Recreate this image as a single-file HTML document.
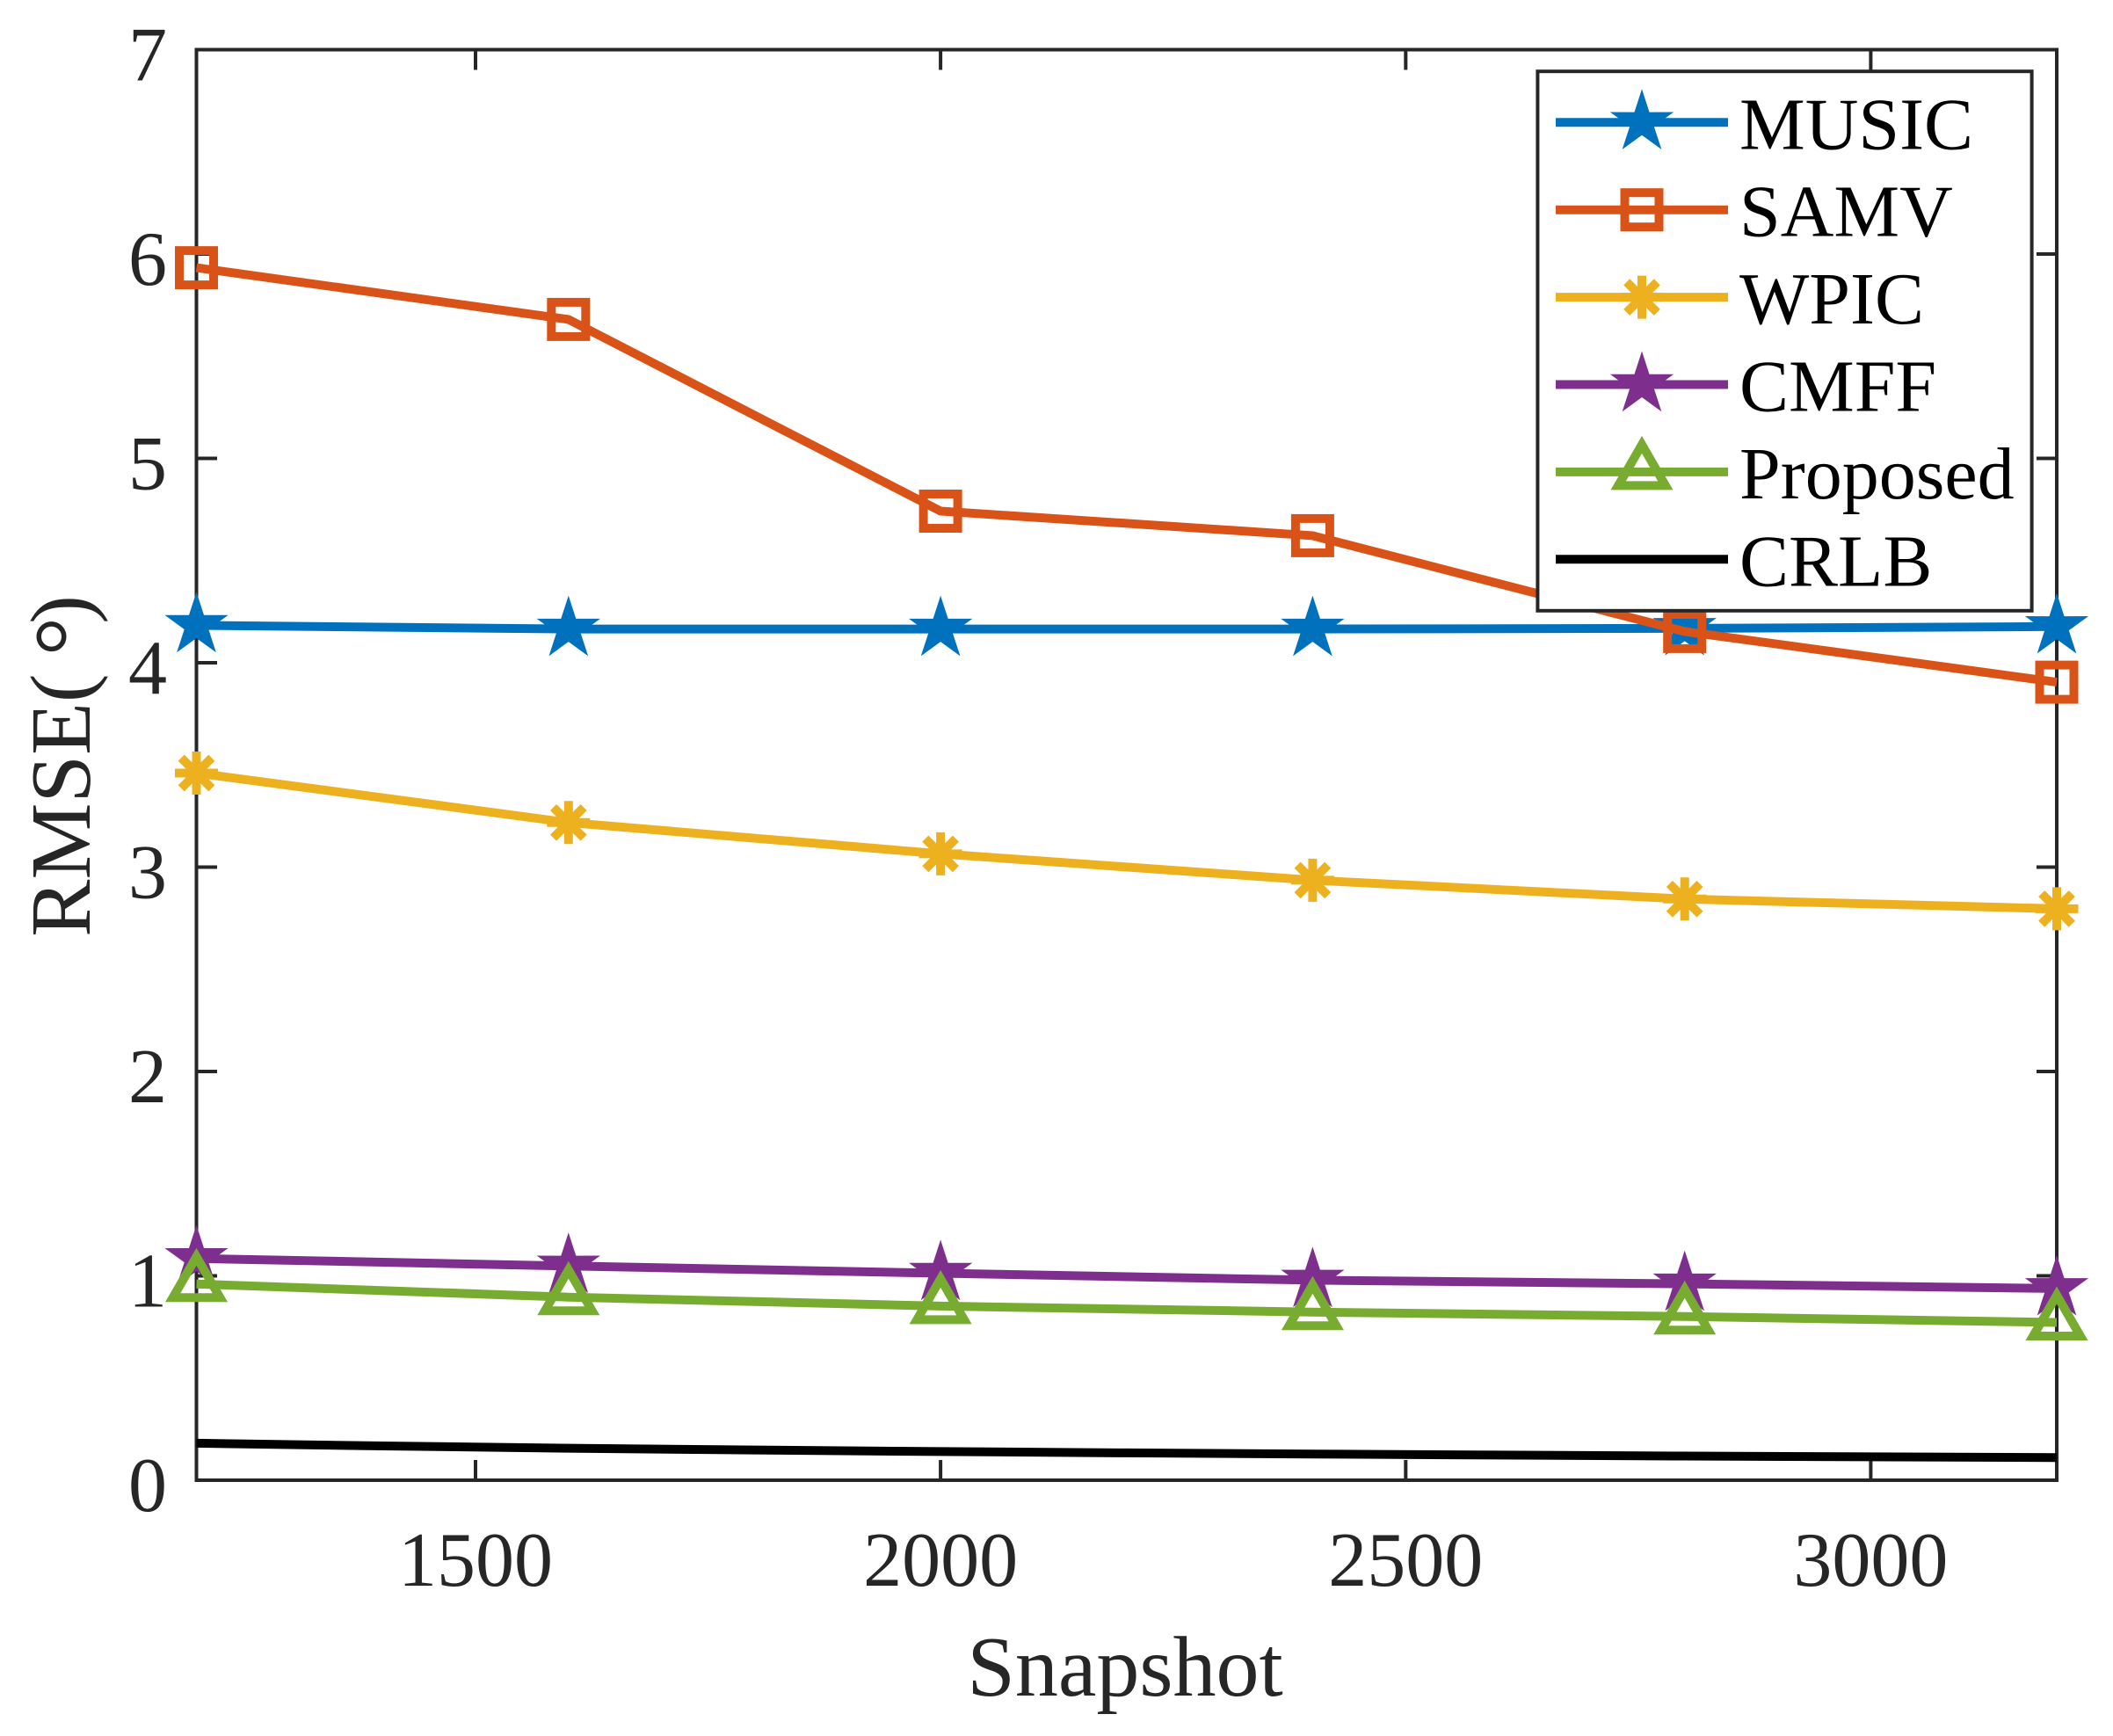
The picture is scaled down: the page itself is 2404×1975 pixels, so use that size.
<!DOCTYPE html>
<html><head><meta charset="utf-8"><style>
html,body{margin:0;padding:0;background:#fff;}
svg{display:block;}
text{font-family:"Liberation Serif","Times New Roman",serif;}
</style></head><body>
<svg width="2404" height="1975" viewBox="0 0 2404 1975" xmlns="http://www.w3.org/2000/svg">
<defs>
<path id="star" d="M0,-38 L8.52,-11.73 L36.14,-11.74 L13.79,4.48 L22.34,30.74 L0,14.5 L-22.34,30.74 L-13.79,4.48 L-36.14,-11.74 L-8.52,-11.73 Z"/>
<rect id="sq" x="-19.5" y="-19.5" width="39" height="39" fill="none" stroke-width="10"/>
<path id="tri" d="M0,-31 L26.85,15.5 L-26.85,15.5 Z" fill="none" stroke-width="10" stroke-miterlimit="10"/>
<path id="ast" d="M0,-24.5 V24.5 M-24.5,0 H24.5 M-17.3,-17.3 L17.3,17.3 M-17.3,17.3 L17.3,-17.3" fill="none" stroke-width="10"/>
</defs>
<rect width="2404" height="1975" fill="#fff"/>

<!-- axes box -->
<rect x="223.5" y="56.5" width="2116.5" height="1627.5" fill="none" stroke="#262626" stroke-width="4"/>
<!-- ticks -->
<g stroke="#262626" stroke-width="4">
<path d="M541,1684 V1661 M1070.1,1684 V1661 M1599.3,1684 V1661 M2128.4,1684 V1661"/>
<path d="M541,56.5 V79.5 M1070.1,56.5 V79.5 M1599.3,56.5 V79.5 M2128.4,56.5 V79.5"/>
<path d="M223.5,1451.5 H247 M223.5,1219 H247 M223.5,986.5 H247 M223.5,754 H247 M223.5,521.5 H247 M223.5,289 H247"/>
<path d="M2340,1451.5 H2317 M2340,1219 H2317 M2340,986.5 H2317 M2340,754 H2317 M2340,521.5 H2317 M2340,289 H2317"/>
</g>

<!-- tick labels -->
<g fill="#262626" font-size="88" text-anchor="end">
<text x="190" y="1719">0</text>
<text x="190" y="1486.5">1</text>
<text x="190" y="1254">2</text>
<text x="190" y="1021.5">3</text>
<text x="190" y="789">4</text>
<text x="190" y="556.5">5</text>
<text x="190" y="324">6</text>
<text x="190" y="91.5">7</text>
</g>
<g fill="#262626" font-size="88" text-anchor="middle">
<text x="541" y="1804">1500</text>
<text x="1070.1" y="1804">2000</text>
<text x="1599.3" y="1804">2500</text>
<text x="2128.4" y="1804">3000</text>
</g>
<text x="1280" y="1929" font-size="98" text-anchor="middle" fill="#262626">Snapshot</text>
<text transform="translate(102,1066) rotate(-90)" x="0" y="0" font-size="98" fill="#262626">RMSE(<tspan dx="20" dy="14" font-size="112">°</tspan><tspan dx="-8" dy="-14">)</tspan></text>

<!-- MUSIC -->
<g stroke="#0072BD" fill="#0072BD">
<polyline fill="none" stroke-width="10" points="223.5,711.5 646.8,715.6 1070.1,715.6 1493.4,715.6 1916.7,714.9 2340,712.8"/>
<g stroke="none">
<use href="#star" x="223.5" y="711.5"/><use href="#star" x="646.8" y="715.6"/><use href="#star" x="1070.1" y="715.6"/>
<use href="#star" x="1493.4" y="715.6"/><use href="#star" x="1916.7" y="714.9"/><use href="#star" x="2340" y="712.8"/>
</g>
</g>
<!-- SAMV -->
<g stroke="#D95319">
<polyline fill="none" stroke-width="10" points="223.5,304.6 646.8,363.4 1070.1,581.5 1493.4,609.4 1916.7,718.4 2340,776.1"/>
<use href="#sq" x="223.5" y="304.6"/><use href="#sq" x="646.8" y="363.4"/><use href="#sq" x="1070.1" y="581.5"/>
<use href="#sq" x="1493.4" y="609.4"/><use href="#sq" x="1916.7" y="718.4"/><use href="#sq" x="2340" y="776.1"/>
</g>
<!-- WPIC -->
<g stroke="#EDB120">
<polyline fill="none" stroke-width="10" points="223.5,879.5 646.8,935.8 1070.1,971.4 1493.4,1001.4 1916.7,1022.8 2340,1033.9"/>
<use href="#ast" x="223.5" y="879.5"/><use href="#ast" x="646.8" y="935.8"/><use href="#ast" x="1070.1" y="971.4"/>
<use href="#ast" x="1493.4" y="1001.4"/><use href="#ast" x="1916.7" y="1022.8"/><use href="#ast" x="2340" y="1033.9"/>
</g>
<!-- CMFF -->
<g stroke="#7E2F8E" fill="#7E2F8E">
<polyline fill="none" stroke-width="10" points="223.5,1431.7 646.8,1440.3 1070.1,1448.5 1493.4,1456.4 1916.7,1460.6 2340,1465.9"/>
<g stroke="none">
<use href="#star" x="223.5" y="1431.7"/><use href="#star" x="646.8" y="1440.3"/><use href="#star" x="1070.1" y="1448.5"/>
<use href="#star" x="1493.4" y="1456.4"/><use href="#star" x="1916.7" y="1460.6"/><use href="#star" x="2340" y="1465.9"/>
</g>
</g>
<!-- Proposed -->
<g stroke="#77AC30">
<polyline fill="none" stroke-width="10" points="223.5,1460.8 646.8,1475.7 1070.1,1485.9 1493.4,1492.7 1916.7,1497.8 2340,1504.5"/>
<use href="#tri" x="223.5" y="1460.8"/><use href="#tri" x="646.8" y="1475.7"/><use href="#tri" x="1070.1" y="1485.9"/>
<use href="#tri" x="1493.4" y="1492.7"/><use href="#tri" x="1916.7" y="1497.8"/><use href="#tri" x="2340" y="1504.5"/>
</g>
<!-- CRLB -->
<polyline fill="none" stroke="#000" stroke-width="10" points="223.5,1641.9 435.15,1645 646.8,1647.6 858.45,1649.6 1070.1,1651.4 1281.75,1652.9 1493.4,1654.2 1705.05,1655.4 1916.7,1656.5 2128.35,1657.4 2340,1658.2"/>

<!-- Legend -->
<rect x="1749.4" y="81.2" width="562.2" height="613.6" fill="#fff" stroke="#262626" stroke-width="4"/>
<g stroke-width="10" fill="none">
<line x1="1770" y1="139.3" x2="1966" y2="139.3" stroke="#0072BD"/>
<use href="#star" x="1868" y="139.3" fill="#0072BD" stroke="none"/>
<line x1="1770" y1="238.7" x2="1966" y2="238.7" stroke="#D95319"/>
<use href="#sq" x="1868" y="238.7" stroke="#D95319"/>
<line x1="1770" y1="338.1" x2="1966" y2="338.1" stroke="#EDB120"/>
<use href="#ast" x="1868" y="338.1" stroke="#EDB120"/>
<line x1="1770" y1="437.5" x2="1966" y2="437.5" stroke="#7E2F8E"/>
<use href="#star" x="1868" y="437.5" fill="#7E2F8E" stroke="none"/>
<line x1="1770" y1="536.9" x2="1966" y2="536.9" stroke="#77AC30"/>
<use href="#tri" x="1868" y="536.9" stroke="#77AC30"/>
<line x1="1770" y1="636.3" x2="1966" y2="636.3" stroke="#000"/>
</g>
<g font-size="84" fill="#000">
<text x="1979" y="169.3">MUSIC</text>
<text x="1979" y="268.7">SAMV</text>
<text x="1979" y="368.1">WPIC</text>
<text x="1979" y="467.5">CMFF</text>
<text x="1979" y="566.9">Proposed</text>
<text x="1979" y="666.3">CRLB</text>
</g>
</svg>
</body></html>
